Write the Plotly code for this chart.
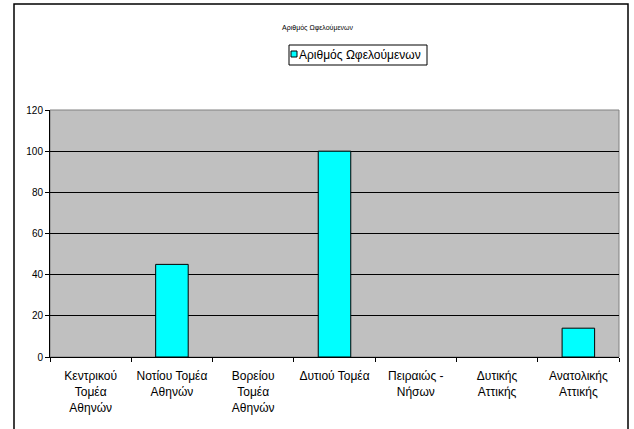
import plotly.graph_objects as go

categories = ["Κεντρικού<br>Τομέα<br>Αθηνών", "Νοτίου Τομέα<br>Αθηνών", "Βορείου<br>Τομέα<br>Αθηνών",
              "Δυτιού Τομέα", "Πειραιώς -<br>Νήσων", "Δυτικής<br>Αττικής", "Ανατολικής<br>Αττικής"]
values = [0, 45, 0, 100, 0, 0, 14]
series_name = "Αριθμός Ωφελούμενων"
title_text = "Αριθμός Ωφελούμενων"

W, H = 634, 429
# plot area in page pixels: x 50..619, y 110..357
L, T = 50, 110
R = W - 619
B = H - 357
pw, ph = W - L - R, H - T - B

def px(x):
    return (x - L) / pw

def py(y):
    return 1 - (y - T) / ph

line_widths = [1 if v > 0 else 0 for v in values]

fig = go.Figure()
fig.add_trace(go.Bar(x=categories, y=values, name=series_name,
                     marker=dict(color="#00FFFF", line=dict(color="black", width=line_widths)),
                     showlegend=False))

fig.update_layout(
    width=W, height=H,
    margin=dict(l=L, r=R, t=T, b=B),
    paper_bgcolor="white", plot_bgcolor="#C0C0C0",
    font=dict(family="Liberation Sans, Arial, sans-serif", color="black"),
    bargap=0.6,
    title=dict(text=title_text, font=dict(size=7), x=px(335), xanchor="center",
               y=1 - 28 / H, yanchor="middle"),
    xaxis=dict(showline=True, linecolor="black", linewidth=1, ticks="outside",
               tickson="boundaries", ticklen=4, tickcolor="black",
               tickfont=dict(size=12), ticklabelstandoff=8, showgrid=False),
    yaxis=dict(range=[0, 120], dtick=20, showline=True, linecolor="black", linewidth=1,
               ticks="outside", ticklen=4, tickcolor="black", tickfont=dict(size=10),
               showgrid=True, gridcolor="black", gridwidth=1, zeroline=False),
    shapes=[
        dict(type="rect", xref="paper", yref="paper", x0=0, x1=1, y0=0, y1=1,
             line=dict(color="#808080", width=1), layer="below"),
        dict(type="rect", xref="paper", yref="paper", x0=px(14), x1=px(628),
             y0=py(440), y1=py(4), line=dict(color="black", width=1.5)),
        # legend box
        dict(type="rect", xref="paper", yref="paper", x0=px(289), x1=px(427),
             y0=py(65), y1=py(45), line=dict(color="black", width=1), fillcolor="white"),
        dict(type="rect", xref="paper", yref="paper", x0=px(291), x1=px(297),
             y0=py(57), y1=py(51), line=dict(color="black", width=1), fillcolor="#00FFFF"),
    ],
    annotations=[
        dict(text=series_name, xref="paper", yref="paper", x=px(297), y=py(55),
             xanchor="left", yanchor="middle", showarrow=False, font=dict(size=12)),
    ],
)

fig.write_html("out.html", config={"displayModeBar": False},
               post_script="document.body.style.margin='0';document.body.style.overflow='hidden';")
